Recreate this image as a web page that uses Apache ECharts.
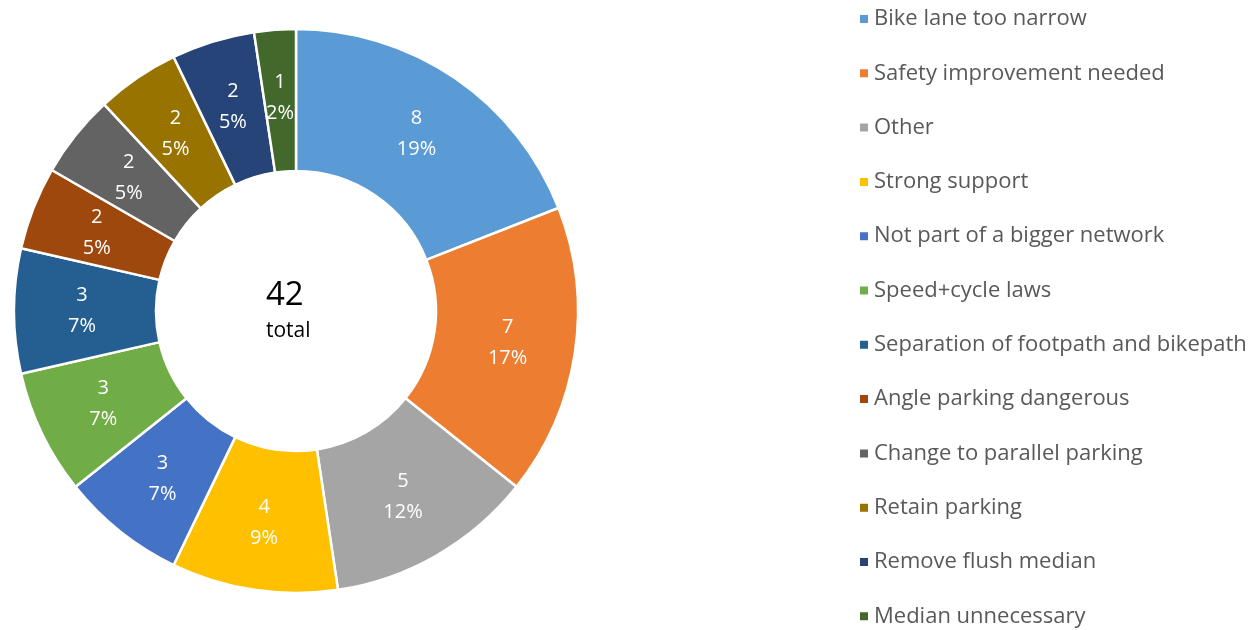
<!DOCTYPE html>
<html>
<head>
<meta charset="utf-8">
<script src="https://cdn.jsdelivr.net/npm/echarts@6/dist/echarts.min.js"></script>
<style>
  html, body { margin: 0; padding: 0; background: #fff; }
  #chart { width: 1260px; height: 630px; }
</style>
</head>
<body>
<div id="chart"></div>
<script>
// categories, counts and the percent text shown on each slice
var categories = [
    'Bike lane too narrow',
    'Safety improvement needed',
    'Other',
    'Strong support',
    'Not part of a bigger network',
    'Speed+cycle laws',
    'Separation of footpath and bikepath',
    'Angle parking dangerous',
    'Change to parallel parking',
    'Retain parking',
    'Remove flush median',
    'Median unnecessary'
];
var counts = [8, 7, 5, 4, 3, 3, 3, 2, 2, 2, 2, 1];
var pctLabels = ['19%', '17%', '12%', '9%', '7%', '7%', '7%', '5%', '5%', '5%', '5%', '2%'];
var colors = ['#5B9BD5', '#ED7D31', '#A5A5A5', '#FFC000', '#4472C4', '#70AD47',
              '#255E91', '#9E480E', '#636363', '#997300', '#264478', '#43682B'];
var totalText = '42';
var totalSub = 'total';

var pieData = [];
for (var i = 0; i < categories.length; i++) {
    pieData.push({ name: categories[i], value: counts[i] });
}

var myChart = echarts.init(document.getElementById('chart'));
var option = {
    color: colors,
    animation: false,
    legend: {
        type: 'plain',
        orient: 'vertical',
        left: 853,
        top: 3,
        height: 627,
        itemWidth: 10,
        itemHeight: 10,
        itemGap: 32.3,
        icon: 'rect',
        textStyle: {
            fontFamily: 'Open Sans',
            fontSize: 22,
            lineHeight: 20,
            color: '#595959',
            padding: [0, 0, 0, 0]
        },
        data: categories
    },
    graphic: [
        {
            type: 'text',
            left: 296 - 30, top: 279,
            style: { text: totalText, font: '33px "Open Sans"', fill: '#000', width: 60, align: 'center' }
        },
        {
            type: 'text',
            left: 296 - 30, top: 321,
            style: { text: totalSub, font: '21px "Open Sans"', fill: '#000', width: 60, align: 'center' }
        }
    ],
    series: [
        {
            type: 'pie',
            center: [296, 311],
            radius: [140, 282],
            startAngle: 90,
            clockwise: true,
            avoidLabelOverlap: false,
            itemStyle: { borderColor: '#fff', borderWidth: 2.5 },
            label: {
                show: true,
                position: 'inside',
                color: '#fff',
                fontFamily: 'Open Sans',
                fontSize: 20,
                lineHeight: 31,
                formatter: function (p) {
                    return p.value + '\n' + pctLabels[p.dataIndex];
                }
            },
            labelLine: { show: false },
            emphasis: { disabled: true },
            data: pieData
        }
    ]
};
myChart.setOption(option);
</script>
</body>
</html>
